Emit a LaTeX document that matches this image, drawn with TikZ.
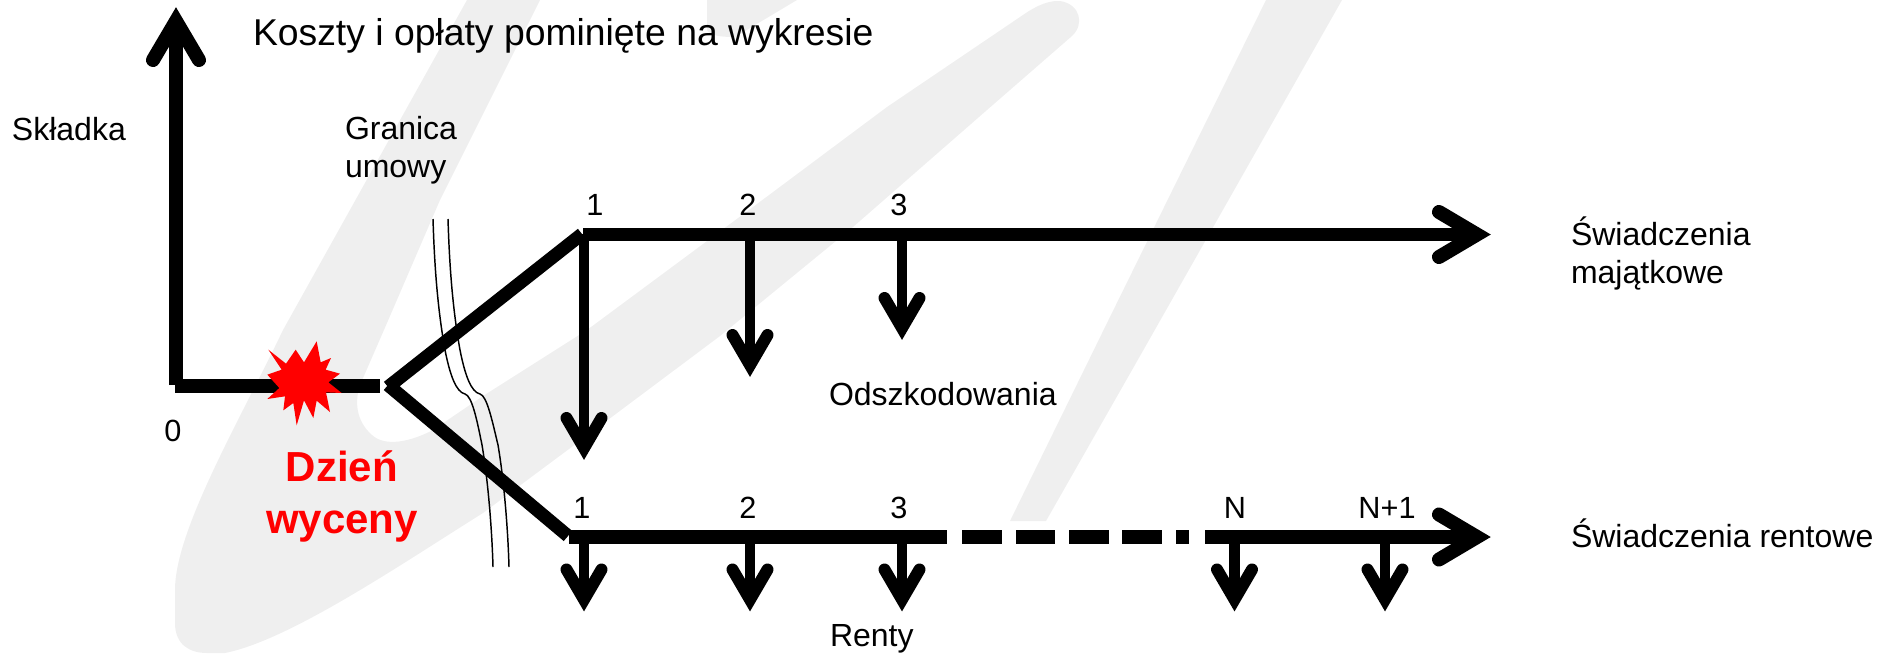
\documentclass[tikz,border=0pt]{standalone}
\usepackage{fontspec}
\setmainfont{Liberation Sans}
\definecolor{wmgray}{HTML}{EFEFEF}
\definecolor{sigred}{HTML}{FF0000}
\tikzset{
  wm/.style={fill=wmgray,draw=none},
  thick axis/.style={draw=black,line width=9.9pt,line cap=butt},
  thick head/.style={draw=black,line width=10.5pt,line cap=round,line join=miter},
  pay line/.style={draw=black,line width=8pt,line cap=butt},
  pay head/.style={draw=black,line width=9pt,line cap=round,line join=miter},
  boundary/.style={draw=black,line width=1.1pt},
  lab/.style={anchor=base west,inner sep=0pt,outer sep=0pt,font=\fontsize{24}{28}\selectfont,text=black},
  num/.style={anchor=base,inner sep=0pt,outer sep=0pt,font=\fontsize{23}{27}\selectfont,text=black},
  redlab/.style={anchor=base,inner sep=0pt,outer sep=0pt,font=\fontsize{31.5}{36}\selectfont\bfseries,text=sigred},
}
\newcommand{\payarrow}[3]{%
  \coordinate (#1 end) at (#2,#3);
  \draw[pay line] (#1) -- (#1 end);
  \draw[pay head] ([shift={(-17.5,-30)}]#1 end) -- (#1 end) -- ([shift={(17.5,-30)}]#1 end);
}
\begin{document}
\begin{tikzpicture}[x=0.75pt,y=-0.75pt]
\useasboundingbox (0,0) rectangle (1890,653);
% watermark
\fill[wm] (467,0) -- (283,330) .. controls (240,420) and (175,530) .. (175,590) -- (175,623)
  .. controls (175,645) and (190,653) .. (207,653) -- (225,653)
  .. controls (290,640) and (400,565) .. (483,513) -- (573,446) -- (720,336) -- (853,227) -- (987,110) -- (1072,36)
  .. controls (1085,24) and (1080,4) .. (1060,1) .. controls (1045,0) and (1030,10) .. (1020,17)
  -- (887,107) -- (753,207) -- (587,330) -- (483,396) -- (433,430)
  .. controls (410,442) and (385,447) .. (372,435) .. controls (355,420) and (355,400) .. (360,385)
  -- (387,323) -- (440,200) -- (540,0) -- cycle;
\fill[wm] (707,0) -- (707,30) .. controls (710,36) and (722,37) .. (735,37) -- (797,0) -- cycle;
\fill[wm] (1266,0) -- (1107,323) -- (1010,521) -- (1046,521) -- (1140,356) -- (1342,0) -- cycle;
% contract boundary
\draw[boundary] (433,219) .. controls (434,250) and (436,300) .. (445,350) .. controls (450,375) and (456,392) .. (465,394) .. controls (472,396) and (477,420) .. (482,445) .. controls (488,480) and (492,530) .. (493,567);
\draw[boundary] (448,219) .. controls (449,250) and (451,300) .. (460,350) .. controls (465,375) and (471,392) .. (480,394) .. controls (487,396) and (492,420) .. (498,445) .. controls (504,480) and (508,530) .. (509,567);
% coordinates
\coordinate (origin v) at (176,385);
\coordinate (origin h) at (175,386);
\coordinate (up apex) at (176,21);
\coordinate (split end) at (380,386);
\coordinate (up start) at (388,387);
\coordinate (up stop) at (582,234);
\coordinate (low start) at (388,385);
\coordinate (low stop) at (568,536);
\coordinate (top start) at (583,234.5);
\coordinate (top apex) at (1477,234.5);
\coordinate (bot start) at (569,537);
\coordinate (bot s1) at (947,537);
\coordinate (dash1a) at (962,537); \coordinate (dash1b) at (1002,537);
\coordinate (dash2a) at (1016,537); \coordinate (dash2b) at (1055,537);
\coordinate (dash3a) at (1069,537); \coordinate (dash3b) at (1109,537);
\coordinate (dash4a) at (1122,537); \coordinate (dash4b) at (1162,537);
\coordinate (dash5a) at (1176,537); \coordinate (dash5b) at (1189,537);
\coordinate (bot s2) at (1205,537);
\coordinate (bot apex) at (1477,537);
% axes and branches
\draw[thick axis] (origin v) -- (up apex);
\draw[thick head] ([shift={(-23,39)}]up apex) -- (up apex) -- ([shift={(23,39)}]up apex);
\draw[thick axis] (origin h) -- (split end);
\draw[thick axis] (up start) -- (up stop);
\draw[thick axis] (low start) -- (low stop);
\draw[thick axis] (top start) -- (top apex);
\draw[thick head] ([shift={(-38,-22.5)}]top apex) -- (top apex) -- ([shift={(-38,22.5)}]top apex);
\draw[thick axis] (bot start) -- (bot s1);
\draw[thick axis] (dash1a) -- (dash1b);
\draw[thick axis] (dash2a) -- (dash2b);
\draw[thick axis] (dash3a) -- (dash3b);
\draw[thick axis] (dash4a) -- (dash4b);
\draw[thick axis] (dash5a) -- (dash5b);
\draw[thick axis] (bot s2) -- (bot apex);
\draw[thick head] ([shift={(-38,-22.5)}]bot apex) -- (bot apex) -- ([shift={(-38,22.5)}]bot apex);
% payment arrows
\coordinate (t1) at (584,234); \coordinate (t2) at (750,234); \coordinate (t3) at (902,234);
\coordinate (b1) at (584,537); \coordinate (b2) at (750,537); \coordinate (b3) at (902,537);
\coordinate (b4) at (1234.5,537); \coordinate (b5) at (1385,537);
\payarrow{t1}{584}{448}
\payarrow{t2}{750}{365}
\payarrow{t3}{902}{328}
\payarrow{b1}{584}{599.5}
\payarrow{b2}{750}{599.5}
\payarrow{b3}{902}{599.5}
\payarrow{b4}{1234.5}{599.5}
\payarrow{b5}{1385}{599.5}
% burst
\begin{scope}[shift={(150,323)},x=0.25pt,y=-0.25pt]
\fill[sigred] (355,80)--(408,122)--(437,80)--(462,118)--(500,55)--(512,118)--(543,105)--(527,140)--(570,152)--(535,178)--(575,210)--(528,208)--(540,267)--(500,233)--(490,285)--(462,232)--(440,307)--(430,240)--(400,262)--(405,220)--(352,228)--(388,195)--(352,155)--(395,140)--cycle;
\end{scope}
% labels
\node[lab,font=\fontsize{28}{32}\selectfont] (title) at (253,45) {Koszty i opłaty pominięte na wykresie};
\node[lab] (skladka) at (12,140) {Składka};
\node[lab] (granica) at (345,139) {Granica};
\node[lab] (umowy) at (345,177) {umowy};
\node[num] (n0) at (173,441) {0};
\node[redlab] (dzien) at (342,481) {Dzień};
\node[redlab] (wyceny) at (342,533) {wyceny};
\node[num] (nt1) at (595,215) {1};
\node[num] (nt2) at (748,215) {2};
\node[num] (nt3) at (899,215) {3};
\node[num] (nb1) at (582,518) {1};
\node[num] (nb2) at (748,518) {2};
\node[num] (nb3) at (899,518) {3};
\node[num] (nbN) at (1235,518) {N};
\node[num] (nbN1) at (1387,518) {N+1};
\node[lab] (odsz) at (829,405) {Odszkodowania};
\node[lab] (renty) at (830,646) {Renty};
\node[lab] (sw1) at (1571,245) {Świadczenia};
\node[lab] (sw2) at (1571,283) {majątkowe};
\node[lab] (sw3) at (1571,547) {Świadczenia rentowe};
\end{tikzpicture}
\end{document}
